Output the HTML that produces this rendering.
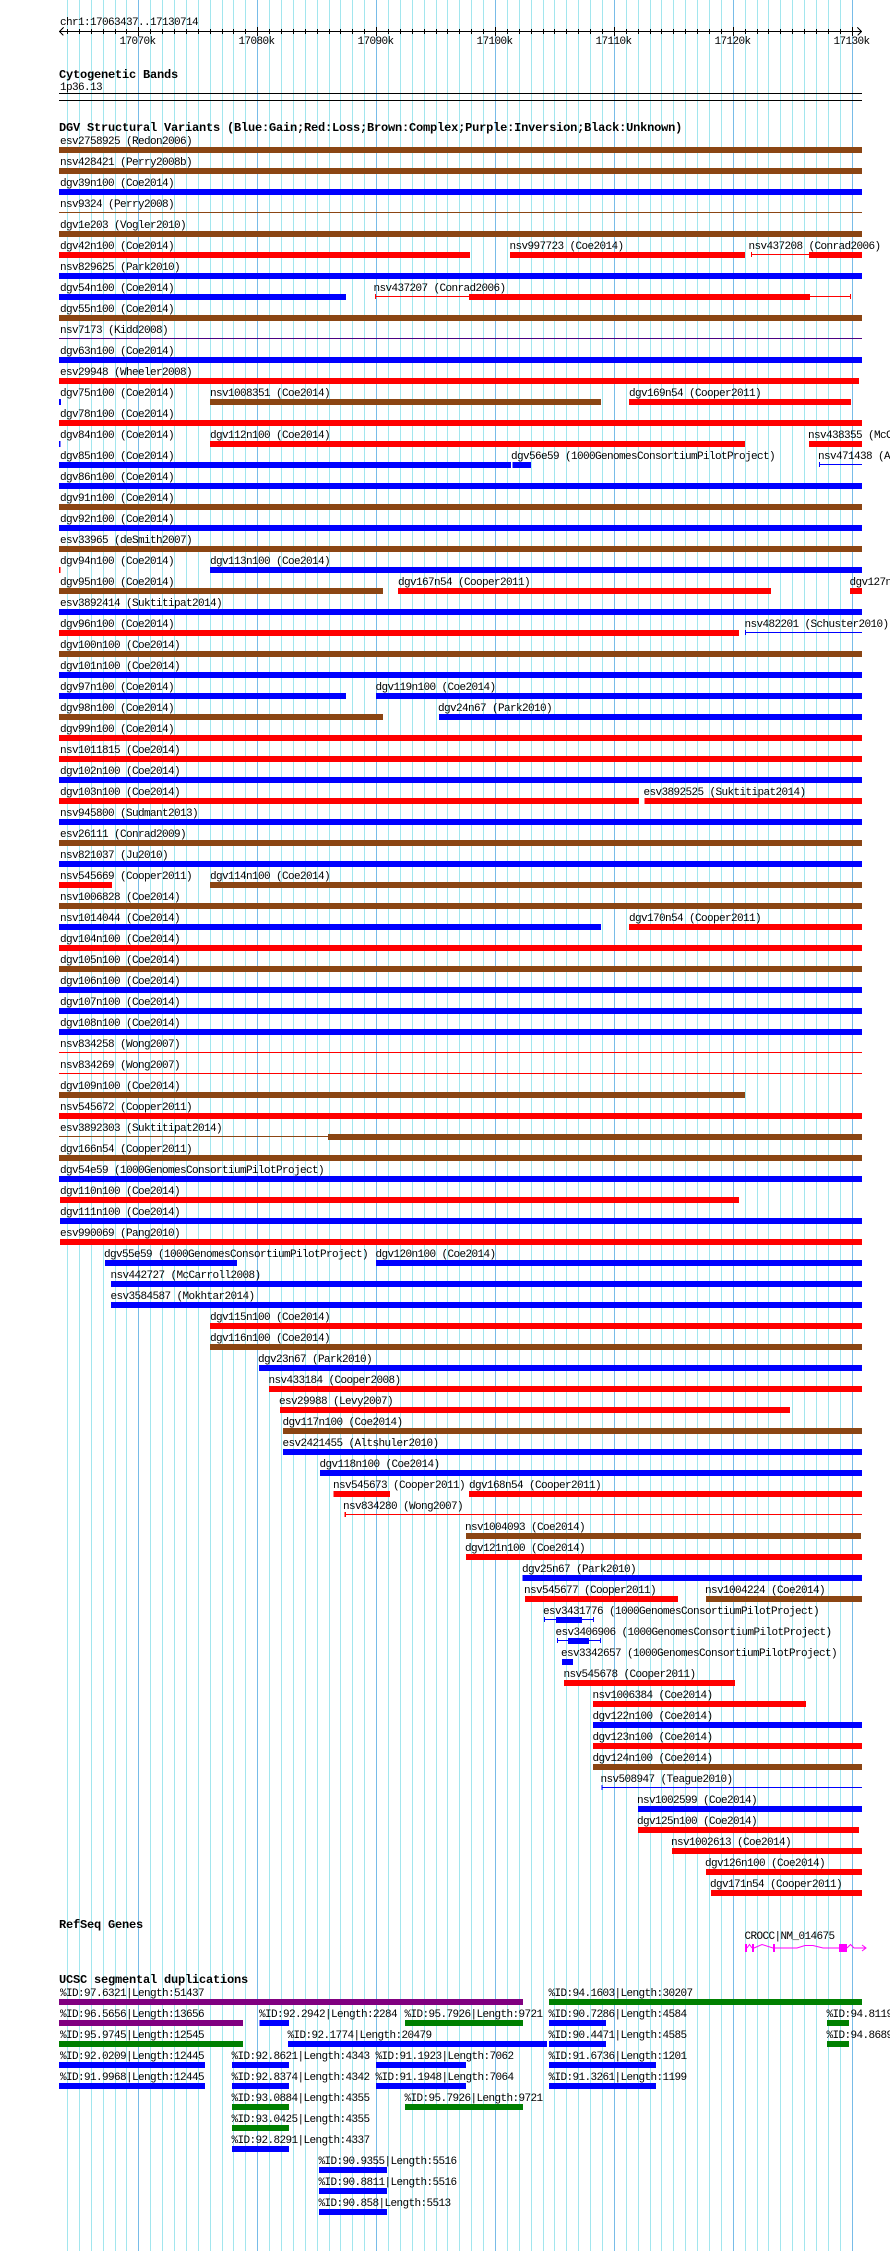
<!DOCTYPE html>
<html><head><meta charset="utf-8"><style>
html,body{margin:0;padding:0;background:#fff;}
svg{display:block;}
.t{font-family:"Liberation Mono","DejaVu Sans Mono",monospace;font-size:11px;letter-spacing:-0.6px;fill:#000;}
.h{font-family:"Liberation Mono","DejaVu Sans Mono",monospace;font-size:12px;font-weight:bold;letter-spacing:-0.2px;fill:#000;}
.gl{fill:#a2e6ee;} .gm{fill:#78bce8;}
.b{fill:#0000ff;} .r{fill:#ff0000;} .n{fill:#8b4513;} .u{fill:#4b0082;} .g{fill:#008000;} .m{fill:#800080;} .k{fill:#000;}
.x{fill:#ff00ff;}
</style></head><body>
<svg width="890" height="2251" viewBox="0 0 890 2251" xmlns="http://www.w3.org/2000/svg" shape-rendering="crispEdges">
<rect x="0" y="0" width="890" height="2251" fill="#fff"/>
<!-- grid -->
<g>
<rect class="gl" x="67" y="0" width="1" height="2251"/><rect class="gl" x="79" y="0" width="1" height="2251"/><rect class="gl" x="91" y="0" width="1" height="2251"/><rect class="gl" x="103" y="0" width="1" height="2251"/><rect class="gl" x="115" y="0" width="1" height="2251"/><rect class="gl" x="126" y="0" width="1" height="2251"/><rect class="gm" x="138" y="0" width="1" height="2251"/>
<rect class="gl" x="150" y="0" width="1" height="2251"/><rect class="gl" x="162" y="0" width="1" height="2251"/><rect class="gl" x="174" y="0" width="1" height="2251"/><rect class="gl" x="186" y="0" width="1" height="2251"/><rect class="gl" x="198" y="0" width="1" height="2251"/><rect class="gl" x="210" y="0" width="1" height="2251"/><rect class="gl" x="222" y="0" width="1" height="2251"/><rect class="gl" x="233" y="0" width="1" height="2251"/><rect class="gl" x="245" y="0" width="1" height="2251"/><rect class="gm" x="257" y="0" width="1" height="2251"/>
<rect class="gl" x="269" y="0" width="1" height="2251"/><rect class="gl" x="281" y="0" width="1" height="2251"/><rect class="gl" x="293" y="0" width="1" height="2251"/><rect class="gl" x="305" y="0" width="1" height="2251"/><rect class="gl" x="317" y="0" width="1" height="2251"/><rect class="gl" x="329" y="0" width="1" height="2251"/><rect class="gl" x="340" y="0" width="1" height="2251"/><rect class="gl" x="352" y="0" width="1" height="2251"/><rect class="gl" x="364" y="0" width="1" height="2251"/><rect class="gm" x="376" y="0" width="1" height="2251"/>
<rect class="gl" x="388" y="0" width="1" height="2251"/><rect class="gl" x="400" y="0" width="1" height="2251"/><rect class="gl" x="412" y="0" width="1" height="2251"/><rect class="gl" x="424" y="0" width="1" height="2251"/><rect class="gl" x="436" y="0" width="1" height="2251"/><rect class="gl" x="447" y="0" width="1" height="2251"/><rect class="gl" x="459" y="0" width="1" height="2251"/><rect class="gl" x="471" y="0" width="1" height="2251"/><rect class="gl" x="483" y="0" width="1" height="2251"/><rect class="gm" x="495" y="0" width="1" height="2251"/>
<rect class="gl" x="507" y="0" width="1" height="2251"/><rect class="gl" x="519" y="0" width="1" height="2251"/><rect class="gl" x="531" y="0" width="1" height="2251"/><rect class="gl" x="543" y="0" width="1" height="2251"/><rect class="gl" x="554" y="0" width="1" height="2251"/><rect class="gl" x="566" y="0" width="1" height="2251"/><rect class="gl" x="578" y="0" width="1" height="2251"/><rect class="gl" x="590" y="0" width="1" height="2251"/><rect class="gl" x="602" y="0" width="1" height="2251"/><rect class="gm" x="614" y="0" width="1" height="2251"/>
<rect class="gl" x="626" y="0" width="1" height="2251"/><rect class="gl" x="638" y="0" width="1" height="2251"/><rect class="gl" x="650" y="0" width="1" height="2251"/><rect class="gl" x="661" y="0" width="1" height="2251"/><rect class="gl" x="673" y="0" width="1" height="2251"/><rect class="gl" x="685" y="0" width="1" height="2251"/><rect class="gl" x="697" y="0" width="1" height="2251"/><rect class="gl" x="709" y="0" width="1" height="2251"/><rect class="gl" x="721" y="0" width="1" height="2251"/><rect class="gm" x="733" y="0" width="1" height="2251"/>
<rect class="gl" x="745" y="0" width="1" height="2251"/><rect class="gl" x="757" y="0" width="1" height="2251"/><rect class="gl" x="768" y="0" width="1" height="2251"/><rect class="gl" x="780" y="0" width="1" height="2251"/><rect class="gl" x="792" y="0" width="1" height="2251"/><rect class="gl" x="804" y="0" width="1" height="2251"/><rect class="gl" x="816" y="0" width="1" height="2251"/><rect class="gl" x="828" y="0" width="1" height="2251"/><rect class="gl" x="840" y="0" width="1" height="2251"/><rect class="gm" x="852" y="0" width="1" height="2251"/>
</g>
<!-- ruler -->
<text class="t" x="60" y="25">chr1:17063437..17130714</text>
<rect class="k" x="59" y="31" width="803" height="1"/>
<path d="M63.5 27.5 L59.5 31.5 L63.5 35.5 M857.5 27.5 L861.5 31.5 L857.5 35.5" stroke="#000" fill="none" stroke-width="1"/>
<g class="k">
<rect x="67" y="29" width="1" height="5"/><rect x="79" y="29" width="1" height="5"/><rect x="91" y="29" width="1" height="5"/><rect x="103" y="29" width="1" height="5"/><rect x="115" y="29" width="1" height="5"/><rect x="126" y="29" width="1" height="5"/><rect x="138" y="27" width="1" height="9"/>
<rect x="150" y="29" width="1" height="5"/><rect x="162" y="29" width="1" height="5"/><rect x="174" y="29" width="1" height="5"/><rect x="186" y="29" width="1" height="5"/><rect x="198" y="29" width="1" height="5"/><rect x="210" y="29" width="1" height="5"/><rect x="222" y="29" width="1" height="5"/><rect x="233" y="29" width="1" height="5"/><rect x="245" y="29" width="1" height="5"/><rect x="257" y="27" width="1" height="9"/>
<rect x="269" y="29" width="1" height="5"/><rect x="281" y="29" width="1" height="5"/><rect x="293" y="29" width="1" height="5"/><rect x="305" y="29" width="1" height="5"/><rect x="317" y="29" width="1" height="5"/><rect x="329" y="29" width="1" height="5"/><rect x="340" y="29" width="1" height="5"/><rect x="352" y="29" width="1" height="5"/><rect x="364" y="29" width="1" height="5"/><rect x="376" y="27" width="1" height="9"/>
<rect x="388" y="29" width="1" height="5"/><rect x="400" y="29" width="1" height="5"/><rect x="412" y="29" width="1" height="5"/><rect x="424" y="29" width="1" height="5"/><rect x="436" y="29" width="1" height="5"/><rect x="447" y="29" width="1" height="5"/><rect x="459" y="29" width="1" height="5"/><rect x="471" y="29" width="1" height="5"/><rect x="483" y="29" width="1" height="5"/><rect x="495" y="27" width="1" height="9"/>
<rect x="507" y="29" width="1" height="5"/><rect x="519" y="29" width="1" height="5"/><rect x="531" y="29" width="1" height="5"/><rect x="543" y="29" width="1" height="5"/><rect x="554" y="29" width="1" height="5"/><rect x="566" y="29" width="1" height="5"/><rect x="578" y="29" width="1" height="5"/><rect x="590" y="29" width="1" height="5"/><rect x="602" y="29" width="1" height="5"/><rect x="614" y="27" width="1" height="9"/>
<rect x="626" y="29" width="1" height="5"/><rect x="638" y="29" width="1" height="5"/><rect x="650" y="29" width="1" height="5"/><rect x="661" y="29" width="1" height="5"/><rect x="673" y="29" width="1" height="5"/><rect x="685" y="29" width="1" height="5"/><rect x="697" y="29" width="1" height="5"/><rect x="709" y="29" width="1" height="5"/><rect x="721" y="29" width="1" height="5"/><rect x="733" y="27" width="1" height="9"/>
<rect x="745" y="29" width="1" height="5"/><rect x="757" y="29" width="1" height="5"/><rect x="768" y="29" width="1" height="5"/><rect x="780" y="29" width="1" height="5"/><rect x="792" y="29" width="1" height="5"/><rect x="804" y="29" width="1" height="5"/><rect x="816" y="29" width="1" height="5"/><rect x="828" y="29" width="1" height="5"/><rect x="840" y="29" width="1" height="5"/><rect x="852" y="27" width="1" height="9"/>
</g>
<text class="t" x="119.5" y="44">17070k</text>
<text class="t" x="238.5" y="44">17080k</text>
<text class="t" x="357.5" y="44">17090k</text>
<text class="t" x="476.5" y="44">17100k</text>
<text class="t" x="595.5" y="44">17110k</text>
<text class="t" x="714.5" y="44">17120k</text>
<text class="t" x="833.5" y="44">17130k</text>
<!-- cytobands -->
<text class="h" x="59" y="78">Cytogenetic Bands</text>
<text class="t" x="60" y="90">1p36.13</text>
<rect class="k" x="59" y="93" width="803" height="1"/>
<rect class="k" x="59" y="100" width="803" height="1"/>
<!-- DGV -->
<text class="h" x="59" y="131">DGV Structural Variants (Blue:Gain;Red:Loss;Brown:Complex;Purple:Inversion;Black:Unknown)</text>

<text class="t" x="60" y="144">esv2758925 (Redon2006)</text><rect class="n" x="59" y="147" width="803" height="6"/>
<text class="t" x="60" y="165">nsv428421 (Perry2008b)</text><rect class="n" x="59" y="168" width="803" height="6"/>
<text class="t" x="60" y="186">dgv39n100 (Coe2014)</text><rect class="b" x="59" y="189" width="803" height="6"/>
<text class="t" x="60" y="207">nsv9324 (Perry2008)</text><rect class="n" x="59" y="212" width="803" height="1"/>
<text class="t" x="60" y="228">dgv1e203 (Vogler2010)</text><rect class="n" x="59" y="231" width="803" height="6"/>
<text class="t" x="60" y="249">dgv42n100 (Coe2014)</text><rect class="r" x="59" y="252" width="411" height="6"/>
<text class="t" x="509.5" y="249">nsv997723 (Coe2014)</text><rect class="r" x="510" y="252" width="235" height="6"/>
<text class="t" x="748.5" y="249">nsv437208 (Conrad2006)</text><rect class="r" x="751" y="254" width="58" height="1"/><rect class="r" x="751" y="252" width="1" height="5"/><rect class="r" x="809" y="252" width="53" height="6"/>
<text class="t" x="60" y="270">nsv829625 (Park2010)</text><rect class="b" x="59" y="273" width="803" height="6"/>
<text class="t" x="60" y="291">dgv54n100 (Coe2014)</text><rect class="b" x="59" y="294" width="287" height="6"/>
<text class="t" x="373.5" y="291">nsv437207 (Conrad2006)</text><rect class="r" x="375" y="296" width="476" height="1"/><rect class="r" x="375" y="294" width="1" height="5"/><rect class="r" x="850" y="294" width="1" height="5"/><rect class="r" x="469" y="294" width="341" height="6"/>
<text class="t" x="60" y="312">dgv55n100 (Coe2014)</text><rect class="n" x="59" y="315" width="803" height="6"/>
<text class="t" x="60" y="333">nsv7173 (Kidd2008)</text><rect class="u" x="59" y="338" width="803" height="1"/>
<text class="t" x="60" y="354">dgv63n100 (Coe2014)</text><rect class="b" x="59" y="357" width="803" height="6"/>
<text class="t" x="60" y="375">esv29948 (Wheeler2008)</text><rect class="r" x="59" y="378" width="800" height="6"/>
<text class="t" x="60" y="396">dgv75n100 (Coe2014)</text><rect class="b" x="59" y="399" width="2" height="6"/>
<text class="t" x="210" y="396">nsv1008351 (Coe2014)</text><rect class="n" x="210" y="399" width="391" height="6"/>
<text class="t" x="629" y="396">dgv169n54 (Cooper2011)</text><rect class="r" x="629" y="399" width="222" height="6"/>
<text class="t" x="60" y="417">dgv78n100 (Coe2014)</text><rect class="r" x="59" y="420" width="803" height="6"/>
<text class="t" x="60" y="438">dgv84n100 (Coe2014)</text><rect class="b" x="59" y="441" width="1.5" height="6"/>
<text class="t" x="210" y="438">dgv112n100 (Coe2014)</text><rect class="r" x="210" y="441" width="535" height="6"/>
<text class="t" x="808" y="438">nsv438355 (McCarroll2008)</text><rect class="r" x="809" y="441" width="53" height="6"/>
<text class="t" x="60" y="459">dgv85n100 (Coe2014)</text><rect class="b" x="59" y="462" width="452" height="6"/>
<text class="t" x="511" y="459">dgv56e59 (1000GenomesConsortiumPilotProject)</text><rect class="b" x="512.5" y="462" width="18.5" height="6"/>
<text class="t" x="818" y="459">nsv471438 (Ahn2009)</text><rect class="b" x="819" y="464" width="43" height="1"/><rect class="b" x="819" y="462" width="1" height="5"/>
<text class="t" x="60" y="480">dgv86n100 (Coe2014)</text><rect class="b" x="59" y="483" width="803" height="6"/>
<text class="t" x="60" y="501">dgv91n100 (Coe2014)</text><rect class="n" x="59" y="504" width="803" height="6"/>
<text class="t" x="60" y="522">dgv92n100 (Coe2014)</text><rect class="b" x="59" y="525" width="803" height="6"/>
<text class="t" x="60" y="543">esv33965 (deSmith2007)</text><rect class="n" x="59" y="546" width="803" height="6"/>
<text class="t" x="60" y="564">dgv94n100 (Coe2014)</text><rect class="r" x="59" y="567" width="1.5" height="6"/>
<text class="t" x="210" y="564">dgv113n100 (Coe2014)</text><rect class="b" x="210" y="567" width="652" height="6"/>
<text class="t" x="60" y="585">dgv95n100 (Coe2014)</text><rect class="n" x="59" y="588" width="324" height="6"/>
<text class="t" x="398" y="585">dgv167n54 (Cooper2011)</text><rect class="r" x="398" y="588" width="373" height="6"/>
<text class="t" x="849.5" y="585">dgv127n54 (Cooper2011)</text><rect class="r" x="850" y="588" width="12" height="6"/>
<text class="t" x="60" y="606">esv3892414 (Suktitipat2014)</text><rect class="b" x="59" y="609" width="803" height="6"/>
<text class="t" x="60" y="627">dgv96n100 (Coe2014)</text><rect class="r" x="59" y="630" width="680" height="6"/>
<text class="t" x="744.5" y="627">nsv482201 (Schuster2010)</text><rect class="b" x="745" y="632" width="117" height="1"/><rect class="b" x="745" y="630" width="1" height="5"/>
<text class="t" x="60" y="648">dgv100n100 (Coe2014)</text><rect class="n" x="59" y="651" width="803" height="6"/>
<text class="t" x="60" y="669">dgv101n100 (Coe2014)</text><rect class="b" x="59" y="672" width="803" height="6"/>
<text class="t" x="60" y="690">dgv97n100 (Coe2014)</text><rect class="b" x="59" y="693" width="287" height="6"/>
<text class="t" x="375.5" y="690">dgv119n100 (Coe2014)</text><rect class="b" x="376" y="693" width="486" height="6"/>
<text class="t" x="60" y="711">dgv98n100 (Coe2014)</text><rect class="n" x="59" y="714" width="324" height="6"/>
<text class="t" x="438" y="711">dgv24n67 (Park2010)</text><rect class="b" x="439" y="714" width="423" height="6"/>
<text class="t" x="60" y="732">dgv99n100 (Coe2014)</text><rect class="r" x="59" y="735" width="803" height="6"/>
<text class="t" x="60" y="753">nsv1011815 (Coe2014)</text><rect class="r" x="59" y="756" width="803" height="6"/>
<text class="t" x="60" y="774">dgv102n100 (Coe2014)</text><rect class="b" x="59" y="777" width="803" height="6"/>
<text class="t" x="60" y="795">dgv103n100 (Coe2014)</text><rect class="r" x="59" y="798" width="580" height="6"/>
<text class="t" x="643.5" y="795">esv3892525 (Suktitipat2014)</text><rect class="r" x="644.5" y="798" width="217.5" height="6"/>
<text class="t" x="60" y="816">nsv945800 (Sudmant2013)</text><rect class="b" x="59" y="819" width="803" height="6"/>
<text class="t" x="60" y="837">esv26111 (Conrad2009)</text><rect class="n" x="59" y="840" width="803" height="6"/>
<text class="t" x="60" y="858">nsv821037 (Ju2010)</text><rect class="b" x="59" y="861" width="803" height="6"/>
<text class="t" x="60" y="879">nsv545669 (Cooper2011)</text><rect class="r" x="59" y="882" width="53" height="6"/>
<text class="t" x="210" y="879">dgv114n100 (Coe2014)</text><rect class="n" x="210" y="882" width="652" height="6"/>
<text class="t" x="60" y="900">nsv1006828 (Coe2014)</text><rect class="n" x="59" y="903" width="803" height="6"/>
<text class="t" x="60" y="921">nsv1014044 (Coe2014)</text><rect class="b" x="59" y="924" width="542" height="6"/>
<text class="t" x="629" y="921">dgv170n54 (Cooper2011)</text><rect class="r" x="629" y="924" width="233" height="6"/>
<text class="t" x="60" y="942">dgv104n100 (Coe2014)</text><rect class="r" x="59" y="945" width="803" height="6"/>
<text class="t" x="60" y="963">dgv105n100 (Coe2014)</text><rect class="n" x="59" y="966" width="803" height="6"/>
<text class="t" x="60" y="984">dgv106n100 (Coe2014)</text><rect class="b" x="59" y="987" width="803" height="6"/>
<text class="t" x="60" y="1005">dgv107n100 (Coe2014)</text><rect class="b" x="59" y="1008" width="803" height="6"/>
<text class="t" x="60" y="1026">dgv108n100 (Coe2014)</text><rect class="b" x="59" y="1029" width="803" height="6"/>
<text class="t" x="60" y="1047">nsv834258 (Wong2007)</text><rect class="r" x="59" y="1052" width="803" height="1"/>
<text class="t" x="60" y="1068">nsv834269 (Wong2007)</text><rect class="r" x="59" y="1073" width="803" height="1"/>
<text class="t" x="60" y="1089">dgv109n100 (Coe2014)</text><rect class="n" x="59" y="1092" width="686" height="6"/>
<text class="t" x="60" y="1110">nsv545672 (Cooper2011)</text><rect class="r" x="59" y="1113" width="803" height="6"/>
<text class="t" x="60" y="1131">esv3892303 (Suktitipat2014)</text><rect class="n" x="59" y="1136" width="269" height="1"/><rect class="n" x="328" y="1134" width="534" height="6"/>
<text class="t" x="60" y="1152">dgv166n54 (Cooper2011)</text><rect class="n" x="59" y="1155" width="803" height="6"/>
<text class="t" x="60" y="1173">dgv54e59 (1000GenomesConsortiumPilotProject)</text><rect class="b" x="59" y="1176" width="803" height="6"/>
<text class="t" x="60" y="1194">dgv110n100 (Coe2014)</text><rect class="r" x="60" y="1197" width="679" height="6"/>
<text class="t" x="60" y="1215">dgv111n100 (Coe2014)</text><rect class="b" x="60" y="1218" width="802" height="6"/>
<text class="t" x="60" y="1236">esv990069 (Pang2010)</text><rect class="r" x="60" y="1239" width="802" height="6"/>
<text class="t" x="104" y="1257">dgv55e59 (1000GenomesConsortiumPilotProject)</text><rect class="b" x="105" y="1260" width="132" height="6"/>
<text class="t" x="375.5" y="1257">dgv120n100 (Coe2014)</text><rect class="b" x="376" y="1260" width="486" height="6"/>
<text class="t" x="110.5" y="1278">nsv442727 (McCarroll2008)</text><rect class="b" x="111" y="1281" width="751" height="6"/>
<text class="t" x="110.5" y="1299">esv3584587 (Mokhtar2014)</text><rect class="b" x="111" y="1302" width="751" height="6"/>
<text class="t" x="210" y="1320">dgv115n100 (Coe2014)</text><rect class="r" x="210" y="1323" width="652" height="6"/>
<text class="t" x="210" y="1341">dgv116n100 (Coe2014)</text><rect class="n" x="210" y="1344" width="652" height="6"/>
<text class="t" x="258" y="1362">dgv23n67 (Park2010)</text><rect class="b" x="259" y="1365" width="603" height="6"/>
<text class="t" x="268.5" y="1383">nsv433184 (Cooper2008)</text><rect class="r" x="269" y="1386" width="593" height="6"/>
<text class="t" x="279" y="1404">esv29988 (Levy2007)</text><rect class="r" x="280" y="1407" width="510" height="6"/>
<text class="t" x="282.5" y="1425">dgv117n100 (Coe2014)</text><rect class="n" x="283" y="1428" width="579" height="6"/>
<text class="t" x="282.5" y="1446">esv2421455 (Altshuler2010)</text><rect class="b" x="283" y="1449" width="579" height="6"/>
<text class="t" x="319.5" y="1467">dgv118n100 (Coe2014)</text><rect class="b" x="320" y="1470" width="542" height="6"/>
<text class="t" x="333" y="1488">nsv545673 (Cooper2011)</text><rect class="r" x="333.5" y="1491" width="56.5" height="6"/>
<text class="t" x="469" y="1488">dgv168n54 (Cooper2011)</text><rect class="r" x="469" y="1491" width="393" height="6"/>
<text class="t" x="343" y="1509">nsv834280 (Wong2007)</text><rect class="r" x="344.5" y="1514" width="517.5" height="1"/><rect class="r" x="344.5" y="1512" width="1.5" height="5"/>
<text class="t" x="465" y="1530">nsv1004093 (Coe2014)</text><rect class="n" x="466" y="1533" width="395" height="6"/>
<text class="t" x="465" y="1551">dgv121n100 (Coe2014)</text><rect class="r" x="466" y="1554" width="396" height="6"/>
<text class="t" x="522" y="1572">dgv25n67 (Park2010)</text><rect class="b" x="522.5" y="1575" width="339.5" height="6"/>
<text class="t" x="524" y="1593">nsv545677 (Cooper2011)</text><rect class="r" x="525" y="1596" width="153" height="6"/>
<text class="t" x="705" y="1593">nsv1004224 (Coe2014)</text><rect class="n" x="706" y="1596" width="156" height="6"/>
<text class="t" x="543" y="1614">esv3431776 (1000GenomesConsortiumPilotProject)</text><rect class="b" x="544" y="1619" width="50" height="1"/><rect class="b" x="544" y="1617" width="1" height="5"/><rect class="b" x="593" y="1617" width="1" height="5"/><rect class="b" x="556" y="1617" width="26" height="6"/>
<text class="t" x="555.5" y="1635">esv3406906 (1000GenomesConsortiumPilotProject)</text><rect class="b" x="557" y="1640" width="44" height="1"/><rect class="b" x="557" y="1638" width="1" height="5"/><rect class="b" x="600" y="1638" width="1" height="5"/><rect class="b" x="568" y="1638" width="21" height="6"/>
<text class="t" x="561" y="1656">esv3342657 (1000GenomesConsortiumPilotProject)</text><rect class="b" x="562" y="1659" width="11" height="6"/>
<text class="t" x="563.5" y="1677">nsv545678 (Cooper2011)</text><rect class="r" x="564" y="1680" width="171" height="6"/>
<text class="t" x="592.5" y="1698">nsv1006384 (Coe2014)</text><rect class="r" x="593" y="1701" width="213" height="6"/>
<text class="t" x="592.5" y="1719">dgv122n100 (Coe2014)</text><rect class="b" x="593" y="1722" width="269" height="6"/>
<text class="t" x="592.5" y="1740">dgv123n100 (Coe2014)</text><rect class="r" x="593" y="1743" width="269" height="6"/>
<text class="t" x="592.5" y="1761">dgv124n100 (Coe2014)</text><rect class="n" x="593" y="1764" width="269" height="6"/>
<text class="t" x="600.5" y="1782">nsv508947 (Teague2010)</text><rect class="b" x="601.5" y="1787" width="260.5" height="1"/><rect class="b" x="601.5" y="1785" width="1" height="5"/>
<text class="t" x="637" y="1803">nsv1002599 (Coe2014)</text><rect class="b" x="638" y="1806" width="224" height="6"/>
<text class="t" x="637" y="1824">dgv125n100 (Coe2014)</text><rect class="r" x="638" y="1827" width="221" height="6"/>
<text class="t" x="671" y="1845">nsv1002613 (Coe2014)</text><rect class="r" x="672" y="1848" width="190" height="6"/>
<text class="t" x="705" y="1866">dgv126n100 (Coe2014)</text><rect class="r" x="706" y="1869" width="156" height="6"/>
<text class="t" x="710" y="1887">dgv171n54 (Cooper2011)</text><rect class="r" x="711" y="1890" width="151" height="6"/>

<!-- RefSeq -->
<text class="h" x="59" y="1928">RefSeq Genes</text>
<text class="t" x="744.5" y="1939">CROCC|NM_014675</text>
<g>
<rect class="x" x="745" y="1944" width="2" height="8"/>
<rect class="x" x="752" y="1944" width="2" height="8"/>
<rect class="x" x="773" y="1944" width="2" height="8"/>
<rect class="x" x="839" y="1944" width="8" height="8"/>
<polyline points="747,1948 749.5,1944.5 752,1948" fill="none" stroke="#ff00ff" stroke-width="1" shape-rendering="auto"/>
<polyline points="754,1948 762,1944.5 773,1948" fill="none" stroke="#ff00ff" stroke-width="1" shape-rendering="auto"/>
<polyline points="775,1948 797,1948 805,1945.5 813,1945.5 823,1948 839,1948" fill="none" stroke="#ff00ff" stroke-width="1" shape-rendering="auto"/>
<polyline points="847,1948 850.5,1944.5 854,1948 866,1948" fill="none" stroke="#ff00ff" stroke-width="1" shape-rendering="auto"/>
<polyline points="862,1945 866,1948 862,1951" fill="none" stroke="#ff00ff" stroke-width="1" shape-rendering="auto"/>
</g>

<!-- Segmental duplications -->
<text class="h" x="59" y="1983">UCSC segmental duplications</text>
<text class="t" x="60" y="1996">%ID:97.6321|Length:51437</text><rect class="m" x="59" y="1999" width="464" height="6"/>
<text class="t" x="548.5" y="1996">%ID:94.1603|Length:30207</text><rect class="g" x="549" y="1999" width="313" height="6"/>

<text class="t" x="60" y="2017">%ID:96.5656|Length:13656</text><rect class="m" x="59" y="2020" width="184" height="6"/>
<text class="t" x="259" y="2017">%ID:92.2942|Length:2284</text><rect class="b" x="259.5" y="2020" width="29.5" height="6"/>
<text class="t" x="404.5" y="2017">%ID:95.7926|Length:9721</text><rect class="g" x="405" y="2020" width="118" height="6"/>
<text class="t" x="548.5" y="2017">%ID:90.7286|Length:4584</text><rect class="b" x="549" y="2020" width="57" height="6"/>
<text class="t" x="826.5" y="2017">%ID:94.8119</text><rect class="g" x="827" y="2020" width="22" height="6"/>

<text class="t" x="60" y="2038">%ID:95.9745|Length:12545</text><rect class="g" x="59" y="2041" width="184" height="6"/>
<text class="t" x="287.5" y="2038">%ID:92.1774|Length:20479</text><rect class="b" x="288" y="2041" width="259" height="6"/>
<text class="t" x="548.5" y="2038">%ID:90.4471|Length:4585</text><rect class="b" x="549" y="2041" width="57" height="6"/>
<text class="t" x="826.5" y="2038">%ID:94.8689</text><rect class="g" x="827" y="2041" width="22" height="6"/>

<text class="t" x="60" y="2059">%ID:92.0209|Length:12445</text><rect class="b" x="59" y="2062" width="146" height="6"/>
<text class="t" x="231.5" y="2059">%ID:92.8621|Length:4343</text><rect class="b" x="232" y="2062" width="57" height="6"/>
<text class="t" x="375.5" y="2059">%ID:91.1923|Length:7062</text><rect class="b" x="376" y="2062" width="90" height="6"/>
<text class="t" x="548.5" y="2059">%ID:91.6736|Length:1201</text><rect class="b" x="549" y="2062" width="107" height="6"/>

<text class="t" x="60" y="2080">%ID:91.9968|Length:12445</text><rect class="b" x="59" y="2083" width="146" height="6"/>
<text class="t" x="231.5" y="2080">%ID:92.8374|Length:4342</text><rect class="b" x="232" y="2083" width="57" height="6"/>
<text class="t" x="375.5" y="2080">%ID:91.1948|Length:7064</text><rect class="b" x="376" y="2083" width="90" height="6"/>
<text class="t" x="548.5" y="2080">%ID:91.3261|Length:1199</text><rect class="b" x="549" y="2083" width="107" height="6"/>

<text class="t" x="231.5" y="2101">%ID:93.0884|Length:4355</text><rect class="g" x="232" y="2104" width="57" height="6"/>
<text class="t" x="404.5" y="2101">%ID:95.7926|Length:9721</text><rect class="g" x="405" y="2104" width="118" height="6"/>

<text class="t" x="231.5" y="2122">%ID:93.0425|Length:4355</text><rect class="g" x="232" y="2125" width="57" height="6"/>
<text class="t" x="231.5" y="2143">%ID:92.8291|Length:4337</text><rect class="b" x="232" y="2146" width="57" height="6"/>
<text class="t" x="318.5" y="2164">%ID:90.9355|Length:5516</text><rect class="b" x="319" y="2167" width="68" height="6"/>
<text class="t" x="318.5" y="2185">%ID:90.8811|Length:5516</text><rect class="b" x="319" y="2188" width="68" height="6"/>
<text class="t" x="318.5" y="2206">%ID:90.858|Length:5513</text><rect class="b" x="319" y="2209" width="68" height="6"/>
</svg>
</body></html>
